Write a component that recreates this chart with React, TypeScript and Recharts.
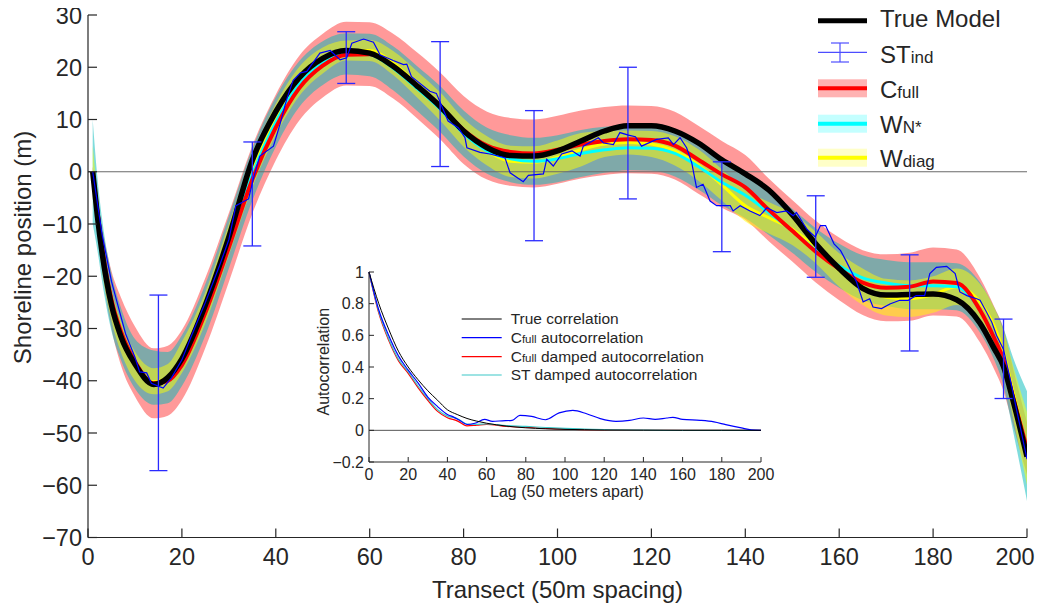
import React from 'react';
import { ComposedChart, Line, Area, Scatter, ErrorBar, XAxis, YAxis, ReferenceLine } from 'recharts';

const FONT = '"Liberation Sans", Arial, Helvetica, sans-serif';
const INK = '#262626';

// ---------- main chart data (transect index) ----------
const T_SMOOTH = [1,2,3,5,7,10,14,17,20,25,30,35,40,45,50,55,60,65,70,75,80,85,90,95,100,105,110,115,120,125,130,135,140,145,150,155,160,165,170,175,180,185,190,193,195,197,200];
const TRUE_MODEL = [0,-8.5,-15.5,-25.5,-31.5,-36.8,-40.7,-39.4,-35.8,-25.5,-12.5,2.2,11.5,18,21.7,23.2,22.7,20.2,16.5,12.5,7.8,4.6,3.1,3,4,5.9,7.8,8.8,8.8,7.8,5.5,2.3,-0.4,-3.5,-8.2,-13.8,-18.5,-22.3,-23.6,-23.5,-23.4,-24.5,-29,-33.8,-37.3,-43.7,-54.5];
const C_FULL = [0,-7.5,-14.5,-24.5,-30.5,-36.3,-40.5,-40,-37,-27,-14.5,-1.5,8.5,16,20.3,22.4,22.5,20.2,16.6,12.6,8,5,3.8,3.5,4.2,5.2,5.9,6.2,6.1,5,2.3,-0.5,-3,-7.3,-11.3,-15.3,-18.6,-21.2,-22.2,-22,-21,-21.3,-26.5,-31.8,-36,-43,-53];
const W_NSTAR = [0,-8,-15,-25,-31,-36.8,-40.6,-39.8,-36.3,-26.5,-13.5,-0.5,9.5,16.8,20.8,22.6,22.4,19.8,16,12,7.3,4,2.5,2,2.5,3.5,4.2,4.6,4.5,3.5,1,-2,-4.5,-7.8,-11.3,-15,-18,-20.3,-21.3,-21.8,-21.8,-22,-26.5,-31.5,-36,-43,-53];
const W_DIAG = [0,-8,-15.5,-25.5,-31.5,-37.2,-40.2,-39.3,-35.5,-26,-13,0,10,17.3,21.3,23.2,23.2,20.8,16.8,12.5,7.5,4,2,1.8,2.8,4.2,5.3,5.6,5.3,4,1.3,-2.5,-6.5,-8.8,-11,-14.5,-18.8,-22,-24,-24.3,-23.5,-22,-25,-29.5,-34.5,-42,-53];

const C_FULL_LO = [-1,-10,-18.5,-30,-37,-43,-47.2,-46.7,-43.7,-33.7,-21.1,-8,2.2,9.8,14.2,16.5,16.4,14,10.3,6.2,1.5,-1.5,-2.7,-3,-2.3,-1.3,-0.6,-0.3,-0.4,-1.5,-4.2,-6.9,-9.2,-13.3,-17.2,-21.2,-24.6,-27.4,-28.6,-28.5,-27.5,-27.7,-32.7,-37.8,-42,-48.5,-58];
const C_FULL_HI = [1,-5,-10.5,-19,-24,-29.6,-33.8,-33.3,-30.3,-20.3,-7.9,5,14.8,22.2,26.4,28.7,28.6,26.4,22.9,19,14.5,11.5,10.3,10,10.7,11.7,12.4,12.7,12.6,11.5,8.8,5.9,3.2,-1.3,-5.4,-9.4,-12.6,-15,-15.8,-15.5,-14.5,-14.9,-20.3,-25.8,-30,-37.5,-48];
const W_NSTAR_LO = [-10,-15,-21,-30.5,-36,-41.5,-44.6,-44.3,-41,-31.3,-18.5,-5.5,4.8,12.4,16.6,18.6,18.3,15.6,11.7,7.6,2.9,-0.4,-2,-2.5,-2,-1,-0.2,0.3,0.2,-0.9,-3.4,-6.4,-8.9,-12.1,-15.5,-19.2,-22.2,-24.6,-25.7,-26.3,-26.3,-26.5,-30.8,-36,-41,-49.5,-63];
const W_NSTAR_HI = [10,-1,-9,-19.5,-26,-32,-34.2,-34.5,-31.3,-21.5,-8.5,4.5,14.3,21.2,25,26.5,26.4,24,20.3,16.4,11.7,8.4,7,6.5,7,8,8.6,9,8.8,7.9,5.4,2.4,-0.1,-3.5,-7.1,-10.8,-13.8,-16,-16.9,-17.3,-17.3,-17.5,-21.2,-26,-30,-35.5,-42];
const W_DIAG_LO = [-5,-12,-19,-28.5,-34.5,-40,-42.6,-42,-38.5,-29,-16,-3,7,14.5,18.8,21.3,21.2,18.5,14.3,9.8,4.8,1.2,-1,-1.3,-0.4,1,2.8,3.3,2.8,1.2,-1.7,-5.5,-9.5,-11.8,-14,-17.5,-22,-25.5,-27.5,-27.8,-27,-25.5,-28.5,-33,-38.5,-47,-60];
const W_DIAG_HI = [5,-4,-12,-22.5,-28.5,-34.4,-37.6,-36.8,-32.5,-23,-10,3,13,20.1,23.8,25.1,25.2,23.1,19.3,15.2,10.2,6.8,5,4.9,6,7.4,7.8,7.9,7.8,6.8,4.3,0.5,-3.5,-5.8,-8,-11.5,-15.6,-18.5,-20.5,-20.8,-20,-18.5,-21.5,-26,-30.5,-37,-46];

const ST_T = [1,3,5,6.5,8,10,11,12.5,13.5,16,17.8,20,22,25,28,30,31.5,34.2,35.2,36.6,39.5,40.9,42.3,43.7,45.2,46.6,49.4,51.6,53.7,55.1,56.2,58.7,60.8,62.2,65,67.2,67.9,68.9,72.8,74.2,76.7,78.9,80.3,80.7,83.5,85.6,88.8,89.9,92.7,93.8,97,97.7,99.1,100.9,103.1,104.8,105.5,108.7,109.8,111.9,113.3,115.1,116.6,117.9,121.1,123.6,124.7,126.1,127.5,128.6,129.6,131,132.5,133.9,136.8,137.4,138.9,141,143.1,144.6,146.7,148.8,150.2,150.9,153.1,154.9,156,157.1,158.9,160.3,161.6,163.7,165.1,166.5,167.2,169,170.8,172.9,174.7,176.4,178.2,179.3,180.7,182.9,184.7,185.7,187.2,189.3,190,191.4,192.5,193.5,195,196.5,198,200];
const ST_V = [0,-12,-21,-26,-31,-35.5,-38.3,-38.5,-40.5,-41.4,-39.4,-36,-31.5,-25,-18,-13,-6.5,-5.2,-1.4,3,4.9,9.1,13.8,17.5,18.9,19.2,22.7,23.2,21.4,21.8,24.6,25.4,24.8,22.4,21.3,20.5,20.6,18.2,15.4,15,9.7,8.4,6.5,4.6,3.7,3.4,2.7,-0.2,-1.9,-0.7,-0.4,2.4,1.1,3.4,4,3,4.9,6.5,5.5,5.2,7.5,7,6.7,4.9,6.2,6.5,5.2,6.5,4.6,1.7,-3,-2.4,-5.6,-6.5,-6.5,-7.5,-6.5,-7.5,-8.4,-6.9,-7.8,-7.5,-8.4,-7.8,-11,-12.5,-10.3,-10.3,-13.8,-15.1,-17.3,-21.1,-24.9,-24.3,-25.9,-26.2,-25.3,-24.6,-24.6,-23.7,-23.7,-19.5,-18.3,-18.1,-19.5,-23,-23.7,-24.3,-24.6,-26.9,-28.8,-31.3,-34,-40,-46.5,-55];

const ERR_T = [15,35,55,75,95,115,135,155,175,195];
const ERR_LO = [-57.2,-14.2,16.9,1.0,-13.2,-5.2,-15.3,-20.2,-34.3,-43.4];
const ERR_HI = [-23.6,5.7,26.8,24.9,11.7,20.0,1.9,-4.6,-15.9,-28.2];

const X_TICKS = [0,20,40,60,80,100,120,140,160,180,200];
const Y_TICKS = [-70,-60,-50,-40,-30,-20,-10,0,10,20,30];

// ---------- inset data (lag) ----------
const LAG = [0,5,10,15,20,25,30,35,40,45,50,55,60,70,80,90,100,110,120,140,160,180,200];
const TRUE_CORR = [1,0.8,0.64,0.5,0.4,0.32,0.25,0.19,0.13,0.1,0.075,0.058,0.045,0.027,0.016,0.01,0.006,0.004,0.002,0.001,0,0,0];
const CFULL_DAMPED = [1,0.74,0.57,0.44,0.36,0.27,0.19,0.12,0.08,0.06,0.028,0.033,0.038,0.025,0.02,0.012,0.008,0.005,0.002,0,0,0,0];
const ST_DAMPED = [1,0.75,0.58,0.45,0.37,0.28,0.2,0.13,0.09,0.075,0.04,0.038,0.04,0.03,0.025,0.018,0.012,0.008,0.004,0.001,0,0,0];
const LAG_AUTO = [0,5,10,15,20,25,30,35,40,43,46,50,54,59,63,68,73,77,83,90,97,104,111,118,126,133,140,146,152,155,160,169,176,182,190,195,200];
const CFULL_AUTO = [1,0.76,0.6,0.47,0.38,0.3,0.21,0.15,0.1,0.085,0.065,0.037,0.045,0.069,0.057,0.06,0.063,0.095,0.088,0.067,0.11,0.126,0.105,0.074,0.057,0.063,0.078,0.069,0.078,0.082,0.069,0.063,0.053,0.036,0.015,0.003,0];
const LAG_TICKS = [0,20,40,60,80,100,120,140,160,180,200];
const CORR_TICKS = [-0.2,0,0.2,0.4,0.6,0.8,1];

// ---------- tables ----------
const mainRows = T_SMOOTH.map((t, i) => ({
  t,
  trueModel: TRUE_MODEL[i],
  cFull: C_FULL[i],
  wN: W_NSTAR[i],
  wDiag: W_DIAG[i],
  cFullBand: [C_FULL_LO[i], C_FULL_HI[i]],
  wNBand: [W_NSTAR_LO[i], W_NSTAR_HI[i]],
  wDiagBand: [W_DIAG_LO[i], W_DIAG_HI[i]],
}));
const stRows = ST_T.map((t, i) => ({ t, v: ST_V[i] }));
const errRows = ERR_T.map((t, i) => {
  const mid = (ERR_LO[i] + ERR_HI[i]) / 2;
  return { t, mid, err: [mid - ERR_LO[i], ERR_HI[i] - mid] };
});

const lagSet = Array.from(new Set([...LAG, ...LAG_AUTO])).sort((a, b) => a - b);
const insetRows = lagSet.map((lag) => {
  const i = LAG.indexOf(lag);
  const j = LAG_AUTO.indexOf(lag);
  return {
    lag,
    trueCorr: i >= 0 ? TRUE_CORR[i] : null,
    cDamped: i >= 0 ? CFULL_DAMPED[i] : null,
    stDamped: i >= 0 ? ST_DAMPED[i] : null,
    cAuto: j >= 0 ? CFULL_AUTO[j] : null,
  };
});

const fmtInt = (v: number) => (v < 0 ? '\u2212' + Math.abs(v) : String(v));
const fmtCorr = (v: number) => {
  if (Math.abs(v) < 1e-9) return '0';
  if (Math.abs(v - 1) < 1e-9) return '1';
  const s = Math.abs(v).toFixed(1);
  return v < 0 ? '\u2212' + s : s;
};

const MainXTick = (p: any) => {
  const last = p.payload.value === 200;
  return (
    <g>
      <line x1={p.x} y1={p.y} x2={p.x} y2={p.y - 9} stroke={INK} strokeWidth={1.2} />
      <text x={last ? p.x - 12 : p.x} y={p.y + 27.5} textAnchor="middle" fontSize={23.5} fill={INK} fontFamily={FONT}>{fmtInt(p.payload.value)}</text>
    </g>
  );
};
const MainYTick = (p: any) => (
  <g>
    <line x1={p.x} y1={p.y} x2={p.x + 9} y2={p.y} stroke={INK} strokeWidth={1.2} />
    <text x={p.x - 6} y={p.y + 8.5} textAnchor="end" fontSize={23.5} fill={INK} fontFamily={FONT}>{fmtInt(p.payload.value)}</text>
  </g>
);
const InsetXTick = (p: any) => (
  <g>
    <line x1={p.x} y1={p.y} x2={p.x} y2={p.y - 5} stroke={INK} strokeWidth={1} />
    <text x={p.x} y={p.y + 17.5} textAnchor="middle" fontSize={16} fill={INK} fontFamily={FONT}>{fmtInt(p.payload.value)}</text>
  </g>
);
const InsetYTick = (p: any) => (
  <g>
    <line x1={p.x} y1={p.y} x2={p.x + 5} y2={p.y} stroke={INK} strokeWidth={1} />
    <text x={p.x - 5} y={p.y + 5.5} textAnchor="end" fontSize={16} fill={INK} fontFamily={FONT}>{fmtCorr(p.payload.value)}</text>
  </g>
);

const noDot = () => <g />;
const OV = { position: 'absolute' as const, left: 0, top: 0, pointerEvents: 'none' as const, overflow: 'visible' as const };

export default function App() {
  return (
    <div style={{ position: 'relative', width: 1035, height: 601, fontFamily: FONT }}>
      <style>{'.recharts-surface{overflow:visible}'}</style>
      <ComposedChart width={1035} height={601} data={mainRows} margin={{ top: 7, right: 16, bottom: 11.5, left: 0 }}>
        <XAxis dataKey="t" type="number" domain={[0, 200]} ticks={X_TICKS} interval={0} height={60}
          tickSize={0} tickMargin={0} tickLine={false} tick={MainXTick} axisLine={{ stroke: INK, strokeWidth: 1.2 }} allowDataOverflow />
        <YAxis type="number" domain={[-70, 30]} ticks={Y_TICKS} interval={0} width={80}
          tickSize={0} tickMargin={0} tickLine={false} tick={MainYTick} axisLine={{ stroke: INK, strokeWidth: 1.2 }} allowDataOverflow />
        <Area dataKey="cFullBand" type="monotone" stroke="none" fill="#ff0000" fillOpacity={0.4} isAnimationActive={false} activeDot={false} />
        <Area dataKey="wNBand" type="monotone" stroke="none" fill="#00b9b9" fillOpacity={0.5} isAnimationActive={false} activeDot={false} />
        <Area dataKey="wDiagBand" type="monotone" stroke="none" fill="#ffff00" fillOpacity={0.5} isAnimationActive={false} activeDot={false} />
        <ReferenceLine y={0} stroke="#6a6a6a" strokeWidth={1} />
        <Line dataKey="wDiag" type="monotone" stroke="#ffff00" strokeWidth={3} dot={false} activeDot={false} isAnimationActive={false} />
        <Line dataKey="wN" type="monotone" stroke="#00ffff" strokeWidth={3} dot={false} activeDot={false} isAnimationActive={false} />
        <Line dataKey="cFull" type="monotone" stroke="#ff0000" strokeWidth={4} dot={false} activeDot={false} isAnimationActive={false} />
        <Scatter data={stRows} dataKey="v" shape={noDot} fill="#0000ff" line={{ stroke: '#0000ff', strokeWidth: 1.2 }} lineJointType="linear" isAnimationActive={false} />
        <Line dataKey="trueModel" type="monotone" stroke="#000000" strokeWidth={5.5} dot={false} activeDot={false} isAnimationActive={false} />
        <Scatter data={errRows} dataKey="mid" shape={noDot} fill="#2a2aff" isAnimationActive={false}>
          <ErrorBar dataKey="err" direction="y" width={9} stroke="#2a2aff" strokeWidth={1.3} isAnimationActive={false} />
        </Scatter>
      </ComposedChart>

      {/* axis titles + legend of the main chart */}
      <svg width={1035} height={601} style={OV}>
        <text x={549.5} y={590} textAnchor="middle" fontSize={24} fill={INK} fontFamily={FONT}>Transect (50m spacing)</text>
        <text x={14} y={239.5} textAnchor="middle" dominantBaseline="central" fontSize={24} fill={INK} fontFamily={FONT}
          transform="rotate(-90 14 239.5)">Shoreline position (m)</text>

        <line x1={810} y1={12.7} x2={859} y2={12.7} stroke="#000" strokeWidth={5} />
        <text x={872} y={19.3} fontSize={24} fill={INK} fontFamily={FONT}>True Model</text>

        <line x1={810} y1={44.3} x2={859} y2={44.3} stroke="#4d4dff" strokeWidth={1.2} />
        <line x1={832} y1={35} x2={832} y2={54} stroke="#4d4dff" strokeWidth={1.2} />
        <line x1={823} y1={35} x2={841} y2={35} stroke="#4d4dff" strokeWidth={1.2} />
        <line x1={823} y1={54} x2={841} y2={54} stroke="#4d4dff" strokeWidth={1.2} />
        <text x={872} y={55.3} fontSize={24} fill={INK} fontFamily={FONT}>ST<tspan fontSize={17}>ind</tspan></text>

        <rect x={810} y={71.3} width={49} height={18} fill="#ffb3b3" />
        <line x1={810} y1={80.3} x2={859} y2={80.3} stroke="#ff0000" strokeWidth={4} />
        <text x={872} y={90.3} fontSize={24} fill={INK} fontFamily={FONT}>C<tspan fontSize={17}>full</tspan></text>

        <rect x={810} y={106.7} width={49} height={18} fill="#c4ffff" />
        <line x1={810} y1={115.7} x2={859} y2={115.7} stroke="#00ffff" strokeWidth={4} />
        <text x={872} y={124.7} fontSize={24} fill={INK} fontFamily={FONT}>W<tspan fontSize={17}>N*</tspan></text>

        <rect x={810} y={140.7} width={49} height={18} fill="#ffffc8" />
        <line x1={810} y1={149.7} x2={859} y2={149.7} stroke="#ffff00" strokeWidth={4} />
        <text x={872} y={158.7} fontSize={24} fill={INK} fontFamily={FONT}>W<tspan fontSize={17}>diag</tspan></text>
      </svg>

      {/* inset autocorrelation chart */}
      <div style={{ position: 'absolute', left: 290, top: 255, width: 480, height: 250 }}>
        <ComposedChart width={480} height={250} data={insetRows} margin={{ top: 9, right: 17, bottom: 9, left: 0 }}>
          <XAxis dataKey="lag" type="number" domain={[0, 200]} ticks={LAG_TICKS} interval={0} height={42}
            tickSize={0} tickMargin={0} tickLine={false} tick={InsetXTick} axisLine={{ stroke: INK, strokeWidth: 1 }} />
          <YAxis type="number" domain={[-0.2, 1]} ticks={CORR_TICKS} interval={0} width={71}
            tickSize={0} tickMargin={0} tickLine={false} tick={InsetYTick} axisLine={{ stroke: INK, strokeWidth: 1 }} />
          <ReferenceLine y={0} stroke="#555" strokeWidth={1} />
          <Line dataKey="cDamped" type="monotone" stroke="#ff0000" strokeWidth={1.2} dot={false} activeDot={false} connectNulls isAnimationActive={false} />
          <Line dataKey="stDamped" type="monotone" stroke="#3cc8c8" strokeWidth={1.2} dot={false} activeDot={false} connectNulls isAnimationActive={false} />
          <Line dataKey="cAuto" type="monotone" stroke="#0000ff" strokeWidth={1.2} dot={false} activeDot={false} connectNulls isAnimationActive={false} />
          <Line dataKey="trueCorr" type="monotone" stroke="#000000" strokeWidth={1} dot={false} activeDot={false} connectNulls isAnimationActive={false} />
        </ComposedChart>
        <svg width={480} height={250} style={OV}>
          <text x={269} y={234} textAnchor="middle" fontSize={16} fill={INK} fontFamily={FONT}>Lag (50 meters apart)</text>
          <text x={25.3} y={98.7} textAnchor="middle" dominantBaseline="central" fontSize={16} fill={INK} fontFamily={FONT}
            transform="rotate(-90 25.3 98.7)">Autocorrelation</text>

          <line x1={163.7} y1={56} x2={203.7} y2={56} stroke="#000" strokeWidth={1} />
          <text x={212.7} y={61} fontSize={15.5} fill={INK} fontFamily={FONT}>True correlation</text>
          <line x1={163.7} y1={74.7} x2={203.7} y2={74.7} stroke="#0000ff" strokeWidth={1.2} />
          <text x={212.7} y={79.7} fontSize={15.5} fill={INK} fontFamily={FONT}>C<tspan fontSize={11.5}>full</tspan> autocorrelation</text>
          <line x1={163.7} y1={93.7} x2={203.7} y2={93.7} stroke="#ff0000" strokeWidth={1.2} />
          <text x={212.7} y={98.7} fontSize={15.5} fill={INK} fontFamily={FONT}>C<tspan fontSize={11.5}>full</tspan> damped autocorrelation</text>
          <line x1={163.7} y1={112} x2={203.7} y2={112} stroke="#3cc8c8" strokeWidth={1.2} />
          <text x={212.7} y={117} fontSize={15.5} fill={INK} fontFamily={FONT}>ST damped autocorrelation</text>
        </svg>
      </div>
    </div>
  );
}
